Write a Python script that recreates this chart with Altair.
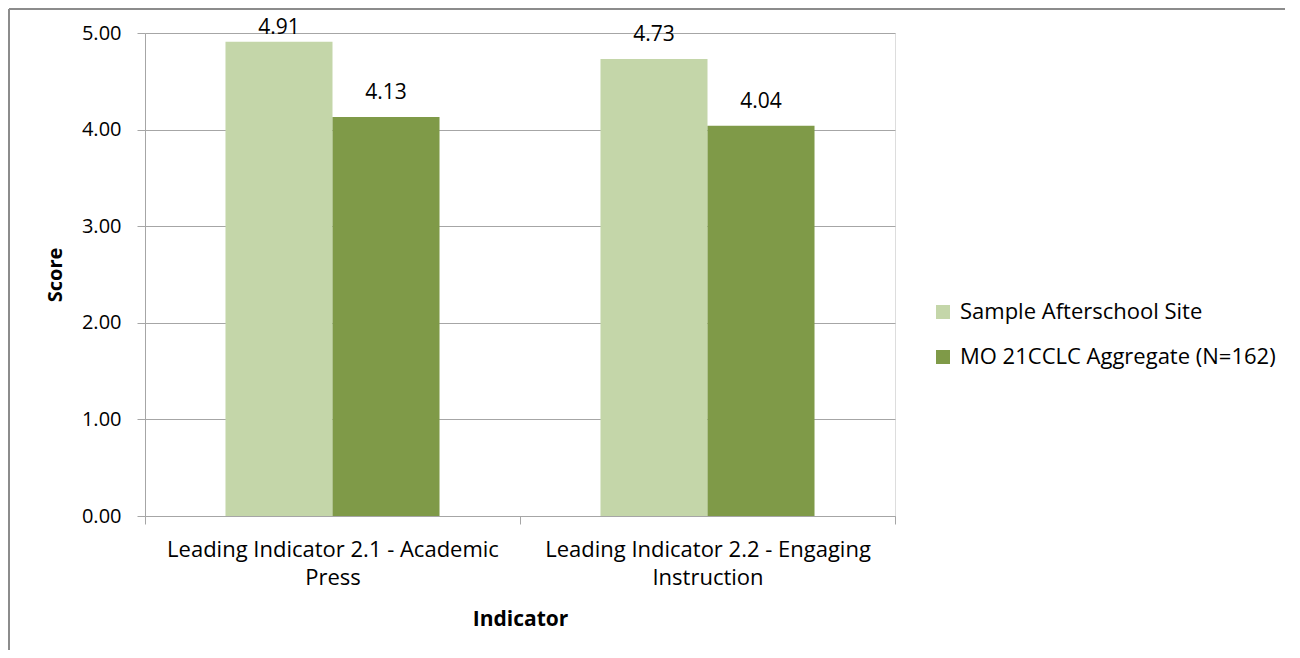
import altair as alt
import pandas as pd

categories = ["Leading Indicator 2.1 - Academic Press",
              "Leading Indicator 2.2 - Engaging Instruction"]
series = ["Sample Afterschool Site", "MO 21CCLC Aggregate (N=162)"]
site_values = [4.91, 4.73]
aggregate_values = [4.13, 4.04]
y_ticks = [0, 1, 2, 3, 4, 5]
colors = ["#C4D6A9", "#7F9A48"]

rows = []
for i, c in enumerate(categories):
    rows.append({"Indicator": c, "Series": series[0], "Score": site_values[i], "order": 0})
    rows.append({"Indicator": c, "Series": series[1], "Score": aggregate_values[i], "order": 1})
df = pd.DataFrame(rows)

FONT = "Open Sans"
FS = 20
GRAY = "#A6A6A6"

x_enc = alt.X("Indicator:N", sort=categories,
              scale=alt.Scale(paddingInner=0, paddingOuter=0),
              axis=alt.Axis(title="Indicator", labelAngle=0, grid=False,
                            tickBand="extent", tickSize=8, tickColor=GRAY,
                            domainColor=GRAY, labelFont=FONT, labelFontSize=22,
                            labelColor="black", labelPadding=15, labelLineHeight=28,
                            labelLimit=420,
                            labelExpr="[slice(datum.label, 0, lastindexof(datum.label, ' ')), slice(datum.label, lastindexof(datum.label, ' ') + 1)]",
                            titleFont=FONT, titleFontSize=21, titleFontWeight="bold",
                            titleColor="black", titlePadding=20))
xoff = alt.XOffset("Series:N", sort=series,
                   scale=alt.Scale(paddingInner=0, paddingOuter=0.752))

bars = alt.Chart(df).mark_bar().encode(
    x=x_enc,
    xOffset=xoff,
    y=alt.Y("Score:Q", scale=alt.Scale(domain=[0, 5], nice=False),
            axis=alt.Axis(title="Score", values=y_ticks, format=".2f",
                          grid=True, gridColor=GRAY, domainColor=GRAY,
                          tickColor=GRAY, tickSize=8, labelFont=FONT,
                          labelFontSize=FS, labelColor="black", labelPadding=16,
                          titleFont=FONT, titleFontSize=FS, titleFontWeight="bold",
                          titleColor="black", titlePadding=16)),
    color=alt.Color("Series:N", sort=series,
                    scale=alt.Scale(domain=series, range=colors),
                    legend=alt.Legend(title=None, orient="none", legendX=787,
                                      legendY=268, symbolType="square",
                                      symbolSize=196, symbolStrokeWidth=0,
                                      labelFont=FONT, labelFontSize=22,
                                      labelColor="black", labelOffset=6,
                                      rowPadding=23, labelLimit=420)),
)

# labels kept inside the chart area, as the spreadsheet does
labels = alt.Chart(df).transform_calculate(
    label_y="min(datum.Score, 4.80)"
).mark_text(baseline="middle", dy=-24, font=FONT,
            fontSize=21, color="black").encode(
    x=alt.X("Indicator:N", sort=categories),
    xOffset=xoff,
    y=alt.Y("label_y:Q"),
    text=alt.Text("Score:Q", format=".2f"),
)

border = alt.Chart(pd.DataFrame({"a": [0]})).mark_rule(color="#8C8C8C", strokeWidth=2).encode(
    x=alt.value(-136), x2=alt.value(1150), y=alt.value(-24)
)
border2 = alt.Chart(pd.DataFrame({"a": [0]})).mark_rule(color="#8C8C8C", strokeWidth=2).encode(
    x=alt.value(-136), y=alt.value(-24), y2=alt.value(620)
)

chart = alt.layer(bars, labels, border, border2).properties(
    width=750, height=483,
    autosize=alt.AutoSizeParams(type="none"),
    padding={"left": 137, "top": 25, "right": 390, "bottom": 134},
).configure_view(stroke=None).configure(background="white")

chart.save("out.html", embed_options={"renderer": "svg", "actions": False})
